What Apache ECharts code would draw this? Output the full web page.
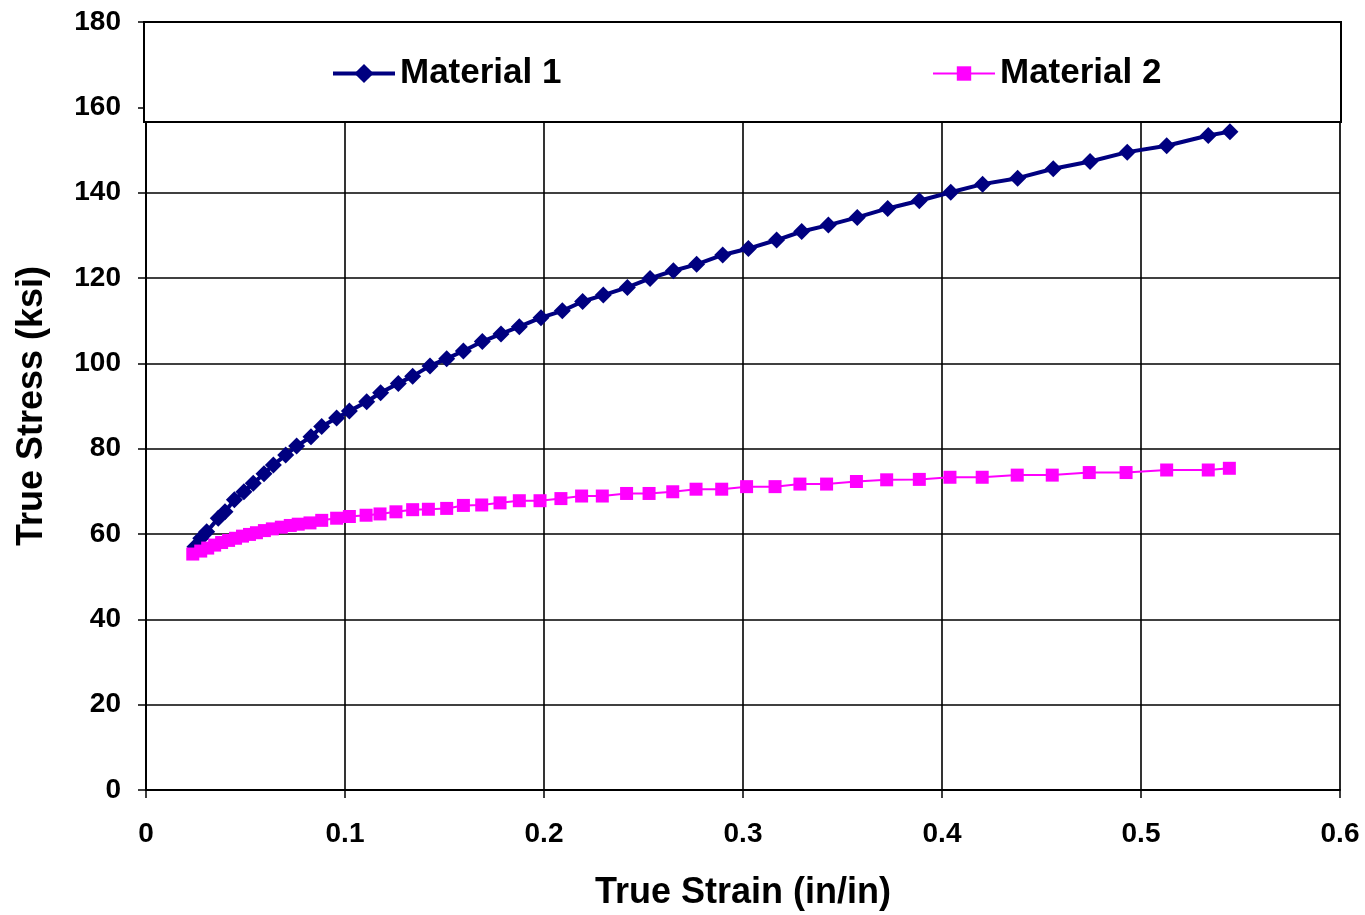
<!DOCTYPE html>
<html>
<head>
<meta charset="utf-8">
<script src="https://cdn.jsdelivr.net/npm/echarts@6/dist/echarts.min.js"></script>
<style>
html,body{margin:0;padding:0;background:#fff;}
#chart{width:1365px;height:915px;}
</style>
</head>
<body>
<div id="chart"></div>
<script>
// Data
const material1Strain = [0.0246,0.0275,0.0305,0.0363,0.0397,0.0444,0.0492,0.0539,0.0593,0.0640,0.0702,0.0757,0.0829,0.0883,0.0958,0.1022,0.1109,0.1179,0.1268,0.1340,0.1427,0.1511,0.1595,0.1690,0.1784,0.1876,0.1985,0.2092,0.2194,0.2298,0.2419,0.2533,0.2650,0.2767,0.2898,0.3027,0.3169,0.3295,0.3429,0.3574,0.3727,0.3886,0.4044,0.4204,0.4380,0.4559,0.4744,0.4931,0.5129,0.5338,0.5447];
const material1Stress = [57.0,59.0,60.5,63.7,65.2,68.0,69.9,71.9,74.1,76.2,78.5,80.6,82.8,85.2,87.2,88.8,91.0,93.1,95.3,97.0,99.4,101.1,102.9,105.1,106.9,108.6,110.7,112.3,114.5,116.0,117.8,119.9,121.7,123.2,125.4,126.9,128.9,130.9,132.4,134.2,136.3,138.1,140.1,142.0,143.4,145.6,147.3,149.5,151.0,153.4,154.3];
const material2Strain = [0.0235,0.0275,0.0310,0.0345,0.0380,0.0415,0.0450,0.0485,0.0520,0.0555,0.0595,0.0635,0.0680,0.0725,0.0765,0.0824,0.0883,0.0958,0.1022,0.1106,0.1176,0.1256,0.1340,0.1419,0.1511,0.1595,0.1687,0.1779,0.1876,0.1980,0.2085,0.2189,0.2293,0.2415,0.2528,0.2647,0.2764,0.2893,0.3018,0.3161,0.3286,0.3420,0.3570,0.3722,0.3886,0.4040,0.4202,0.4378,0.4554,0.4740,0.4925,0.5129,0.5338,0.5444];
const material2Stress = [55.3,56.0,56.7,57.4,58.0,58.5,59.0,59.5,59.9,60.3,60.8,61.2,61.6,62.0,62.3,62.6,63.2,63.7,64.1,64.4,64.7,65.2,65.7,65.8,66.0,66.7,66.8,67.3,67.8,67.8,68.3,68.9,68.9,69.5,69.5,69.9,70.5,70.5,71.1,71.1,71.7,71.7,72.3,72.7,72.8,73.3,73.3,73.8,73.8,74.4,74.4,75.0,75.0,75.4];
const seriesNames = ['Material 1','Material 2'];
const xTitle = 'True Strain (in/in)';
const yTitle = 'True Stress (ksi)';

const pair = (xs, ys) => xs.map((x, i) => [x, ys[i]]);
const FONT = '"Liberation Sans", Arial, sans-serif';

const chart = echarts.init(document.getElementById('chart'), null, {renderer: 'canvas'});
chart.setOption({
  backgroundColor: '#ffffff',
  animation: false,
  grid: {left: 146, right: 25, top: 22, bottom: 125, show: true, borderColor: '#808080', borderWidth: 1,
    backgroundColor: 'transparent', containLabel: false, outerBoundsMode: 'none'},
  xAxis: {
    type: 'value', min: 0, max: 0.6, interval: 0.1,
    name: xTitle, nameLocation: 'middle', nameGap: 85,
    nameTextStyle: {fontFamily: FONT, fontWeight: 'bold', fontSize: 36, color: '#000'},
    axisLine: {show: true, onZero: false, lineStyle: {color: '#000', width: 2}},
    axisTick: {show: true, inside: false, length: 8, lineStyle: {color: '#000', width: 1.5}},
    axisLabel: {fontFamily: FONT, fontWeight: 'bold', fontSize: 28, color: '#000', margin: 30,
      formatter: v => (Math.round(v * 10) / 10).toString()},
    splitLine: {show: true, lineStyle: {color: '#000', width: 1.6}}
  },
  yAxis: {
    type: 'value', min: 0, max: 180, interval: 20,
    name: yTitle, nameLocation: 'middle', nameGap: 96, nameRotate: 90,
    nameTextStyle: {fontFamily: FONT, fontWeight: 'bold', fontSize: 36, color: '#000'},
    axisLine: {show: true, onZero: false, lineStyle: {color: '#000', width: 2}},
    axisTick: {show: true, inside: false, length: 8, lineStyle: {color: '#000', width: 1.5}},
    axisLabel: {fontFamily: FONT, fontWeight: 'bold', fontSize: 28, color: '#000', margin: 25},
    splitLine: {show: true, lineStyle: {color: '#000', width: 1.6}}
  },
  graphic: [{
    type: 'rect', z: 50, silent: true,
    shape: {x: 144, y: 22, width: 1197, height: 100},
    style: {fill: '#ffffff', stroke: '#000', lineWidth: 2}
  }],
  legend: [
    {data: [seriesNames[0]], left: 326, top: 51, z: 60, itemWidth: 62, itemHeight: 24, itemGap: 10,
      lineStyle: {width: 4},
      textStyle: {fontFamily: FONT, fontWeight: 'bold', fontSize: 35, color: '#000'}},
    {data: [seriesNames[1]], left: 927, top: 51, z: 60, itemWidth: 62, itemHeight: 18, itemGap: 10,
      lineStyle: {width: 2},
      textStyle: {fontFamily: FONT, fontWeight: 'bold', fontSize: 35, color: '#000'}}
  ],
  series: [
    {
      name: seriesNames[0], type: 'line', data: pair(material1Strain, material1Stress),
      symbol: 'diamond', symbolSize: 17, z: 3,
      lineStyle: {color: '#000080', width: 4},
      itemStyle: {color: '#000080'}
    },
    {
      name: seriesNames[1], type: 'line', data: pair(material2Strain, material2Stress),
      symbol: 'rect', symbolSize: 13, z: 4,
      lineStyle: {color: '#FF00FF', width: 2},
      itemStyle: {color: '#FF00FF'}
    }
  ]
});
</script>
</body>
</html>
